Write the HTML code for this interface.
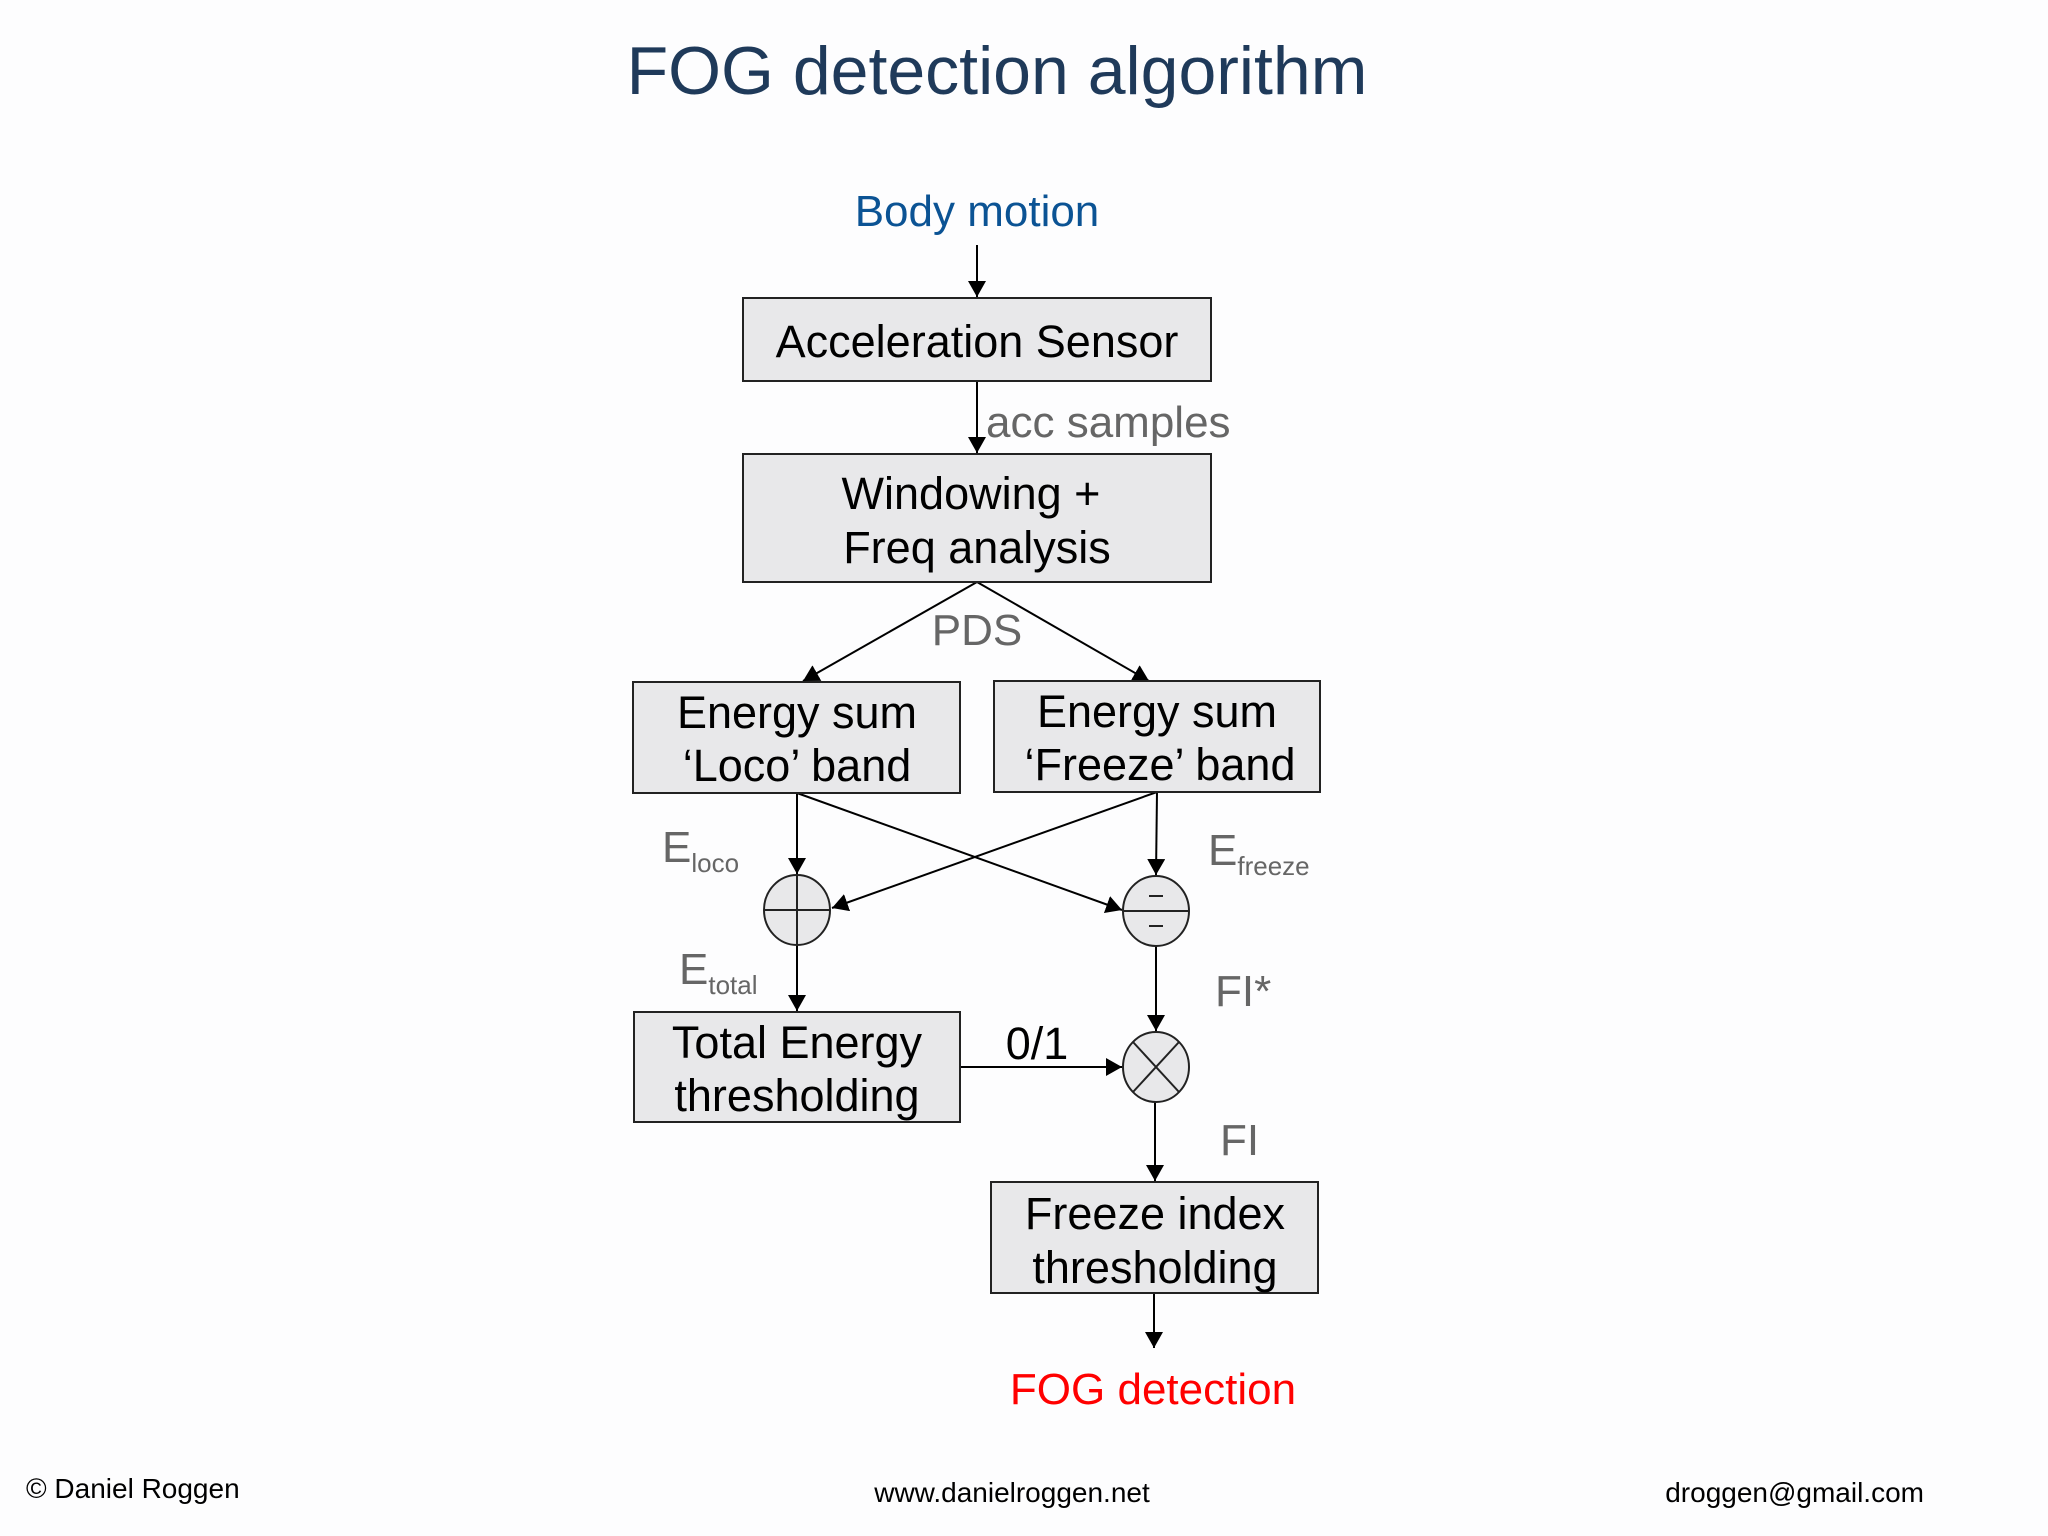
<!DOCTYPE html>
<html><head><meta charset="utf-8"><style>
html,body{margin:0;padding:0;background:#fdfdfe;}
svg{display:block;font-family:"Liberation Sans",Arial,sans-serif;}
</style></head><body>
<svg width="2048" height="1536" viewBox="0 0 2048 1536" xmlns="http://www.w3.org/2000/svg">
<defs>
<marker id="b" markerWidth="16" markerHeight="18" refX="16" refY="9" orient="auto" markerUnits="userSpaceOnUse">
<path d="M0,0 L16,9 L0,18 z" fill="#000"/>
</marker>
</defs>
<rect width="2048" height="1536" fill="#fdfdfe"/>
<text x="997" y="94" font-size="68" fill="#1f3a5a" text-anchor="middle">FOG detection algorithm</text>
<text x="977" y="226" font-size="44" fill="#0b5394" text-anchor="middle">Body motion</text>

<g stroke="#000" stroke-width="2" fill="none">
<line x1="977" y1="245" x2="977" y2="297" marker-end="url(#b)"/>
<line x1="977" y1="381" x2="977" y2="453" marker-end="url(#b)"/>
<line x1="977" y1="582" x2="803" y2="681" marker-end="url(#b)"/>
<line x1="977" y1="582" x2="1149" y2="681" marker-end="url(#b)"/>
<line x1="797" y1="793" x2="797" y2="874" marker-end="url(#b)"/>
<line x1="797" y1="793" x2="1122" y2="910" marker-end="url(#b)"/>
<line x1="1157" y1="792" x2="832" y2="908" marker-end="url(#b)"/>
<line x1="1157" y1="792" x2="1156" y2="875" marker-end="url(#b)"/>
<line x1="797" y1="944" x2="797" y2="1011" marker-end="url(#b)"/>
<line x1="1156" y1="945" x2="1156" y2="1031" marker-end="url(#b)"/>
<line x1="960" y1="1067" x2="1122" y2="1067" marker-end="url(#b)"/>
<line x1="1155" y1="1102" x2="1155" y2="1181" marker-end="url(#b)"/>
<line x1="1154" y1="1293" x2="1154" y2="1348" marker-end="url(#b)"/>
</g>

<g fill="#e8e8ea" stroke="#222" stroke-width="2">
<rect x="743" y="298" width="468" height="83"/>
<rect x="743" y="454" width="468" height="128"/>
<rect x="633" y="682" width="327" height="111"/>
<rect x="994" y="681" width="326" height="111"/>
<rect x="634" y="1012" width="326" height="110"/>
<rect x="991" y="1182" width="327" height="111"/>
<ellipse cx="797" cy="910" rx="33" ry="35"/>
<ellipse cx="1156" cy="911" rx="33" ry="35"/>
<ellipse cx="1156" cy="1067" rx="33" ry="35"/>
</g>
<g stroke="#222" stroke-width="2">
<line x1="764" y1="910" x2="830" y2="910"/>
<line x1="797" y1="875" x2="797" y2="945"/>
<line x1="1123" y1="911" x2="1189" y2="911"/>
<line x1="1149" y1="896" x2="1163" y2="896"/>
<line x1="1149" y1="926" x2="1163" y2="926"/>
<line x1="1133" y1="1042" x2="1179" y2="1092"/>
<line x1="1179" y1="1042" x2="1133" y2="1092"/>
</g>

<g font-size="45" fill="#000" text-anchor="middle">
<text x="977" y="357">Acceleration Sensor</text>
<text x="971" y="509">Windowing +</text>
<text x="977" y="563">Freq analysis</text>
<text x="797" y="728">Energy sum</text>
<text x="797" y="781">‘Loco’ band</text>
<text x="1157" y="727">Energy sum</text>
<text x="1160" y="780">‘Freeze’ band</text>
<text x="797" y="1058">Total Energy</text>
<text x="797" y="1111">thresholding</text>
<text x="1155" y="1229">Freeze index</text>
<text x="1155" y="1283">thresholding</text>
<text x="1037" y="1059">0/1</text>
</g>
<g font-size="44" fill="#666">
<text x="986" y="437">acc samples</text>
<text x="977" y="645" text-anchor="middle">PDS</text>
<text x="662" y="862">E<tspan font-size="26" dy="10">loco</tspan></text>
<text x="1208" y="865">E<tspan font-size="26" dy="10">freeze</tspan></text>
<text x="679" y="984">E<tspan font-size="26" dy="10">total</tspan></text>
<text x="1215" y="1006">FI*</text>
<text x="1220" y="1155">FI</text>
</g>
<text x="1153" y="1404" font-size="44" fill="#ff0000" text-anchor="middle">FOG detection</text>
<g font-size="28" fill="#000">
<text x="26" y="1498">© Daniel Roggen</text>
<text x="1012" y="1502" text-anchor="middle">www.danielroggen.net</text>
<text x="1924" y="1502" text-anchor="end">droggen@gmail.com</text>
</g>
</svg>
</body></html>
